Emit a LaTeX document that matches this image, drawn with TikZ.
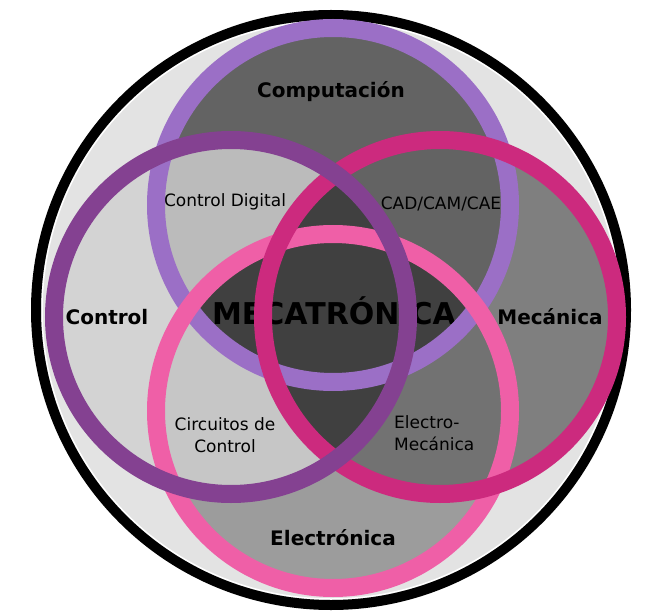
\documentclass[tikz,border=0pt]{standalone}
\usepackage{fontspec}
\setmainfont{DejaVu Sans}
\usetikzlibrary{positioning}
\definecolor{lavanda}{HTML}{9B6FC6}
\definecolor{morado}{HTML}{844191}
\definecolor{magenta}{HTML}{CC2A7E}
\definecolor{rosa}{HTML}{EF5FA7}
\definecolor{fondo}{HTML}{E3E3E3}
\definecolor{grisctrl}{HTML}{D3D3D3}
\definecolor{griscomp}{HTML}{636363}
\definecolor{grismec}{HTML}{7F7F7F}
\definecolor{griselec}{HTML}{9C9C9C}
\definecolor{grisdig}{HTML}{BBBBBB}
\definecolor{griscirc}{HTML}{C6C6C6}
\definecolor{grisem}{HTML}{727272}
\definecolor{grisnucleo}{HTML}{404040}

\begin{document}
\begin{tikzpicture}[x=1pt, y=-1pt,
  anillo/.style={line width=18pt},
  area/.style={anchor=base, inner sep=0pt, font=\fontsize{20}{24}\selectfont\bfseries},
  cruce/.style={inner sep=0pt, font=\fontsize{17}{21.5}\selectfont}]
\useasboundingbox (0,0) rectangle (666,612);
\def\radio{177pt}
\coordinate (centro) at (331,310);
\coordinate (comp) at (333,205);
\coordinate (ctrl) at (231,317);
\coordinate (mec) at (440,317);
\coordinate (elec) at (333,411);

% fondo
\fill[fondo] (centro) circle[radius=295pt];
\draw[white, line width=1.5pt] (centro) circle[radius=289pt];
\draw[black, line width=10pt] (centro) circle[radius=295pt];

% areas simples
\fill[griscomp] (comp) circle[radius=\radio];
\fill[grisctrl] (ctrl) circle[radius=\radio];
\fill[grismec] (mec) circle[radius=\radio];
\fill[griselec] (elec) circle[radius=\radio];

% intersecciones
\begin{scope}
\clip (ctrl) circle[radius=\radio];
\fill[grisdig] (comp) circle[radius=\radio];
\end{scope}
\begin{scope}
\clip (mec) circle[radius=\radio];
\fill[griscomp] (comp) circle[radius=\radio];
\end{scope}
\begin{scope}
\clip (ctrl) circle[radius=\radio];
\fill[griscirc] (elec) circle[radius=\radio];
\end{scope}
\begin{scope}
\clip (mec) circle[radius=\radio];
\fill[grisem] (elec) circle[radius=\radio];
\end{scope}
\begin{scope}
\clip (ctrl) circle[radius=\radio];
\fill[grisnucleo] (mec) circle[radius=\radio];
\end{scope}
\begin{scope}
\clip (comp) circle[radius=\radio];
\fill[grisnucleo] (elec) circle[radius=\radio];
\end{scope}

% textos
\node[area] (tcomp) at (331,98) {Computación};
\node[area] (tctrl) at (107,324) {Control};
\node[area] (tmec) at (550,324) {Mecánica};
\node[area] (telec) at (333,545) {Electrónica};
\node[area, font=\fontsize{30}{36}\selectfont\bfseries] (tmeca) at (334,324) {MECATRÓNICA};
\node[cruce, anchor=base] (tdig) at (225,207) {Control Digital};
\node[cruce, anchor=base] (tcad) at (441,210) {CAD/CAM/CAE};
\node[cruce, align=center] (tcirc) at (225,435) {Circuitos de\\Control};
\node[cruce, align=left, anchor=west] (tem) at (394,433) {Electro-\\Mecánica};

% anillos
\draw[anillo, lavanda] (comp) circle[radius=\radio];
\draw[anillo, rosa] (elec) circle[radius=\radio];
\draw[anillo, magenta] (mec) circle[radius=\radio];
\draw[anillo, morado] (ctrl) circle[radius=\radio];
\end{tikzpicture}
\end{document}
